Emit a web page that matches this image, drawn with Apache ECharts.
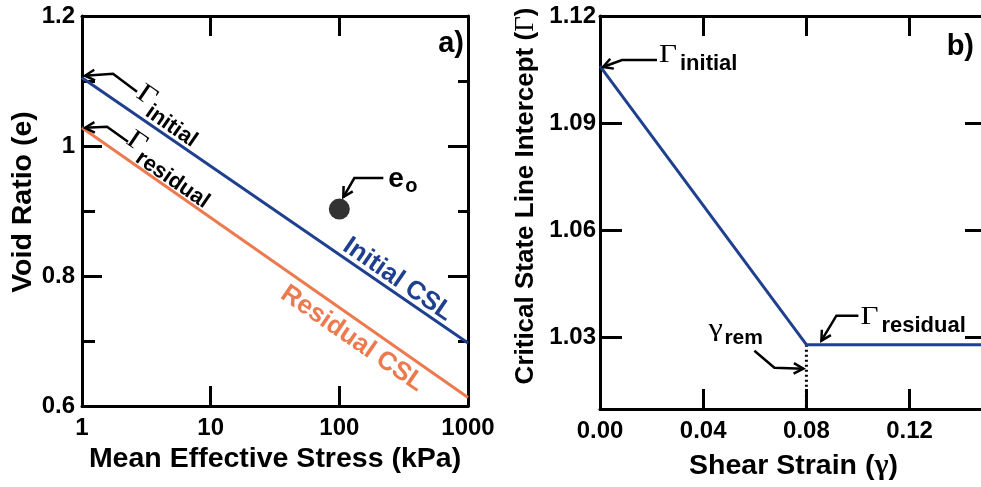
<!DOCTYPE html>
<html>
<head>
<meta charset="utf-8">
<script src="https://cdn.jsdelivr.net/npm/echarts@6/dist/echarts.min.js"></script>
<style>
  html, body { margin: 0; padding: 0; background: #fff; }
  #chart { width: 981px; height: 487px; }
</style>
</head>
<body>
<div id="chart"></div>
<script>
// Panel a): critical state lines in e - log p' space
const stressKPa = [1, 1000];
const initialCSL = [1.105, 0.697];
const residualCSL = [1.028, 0.613];
const initialState = [100, 0.903];

// Panel b): CSL intercept against shear strain
const shearStrain = [0, 0.08, 0.15];
const gammaIntercept = [1.106, 1.028, 1.028];
const gammaRem = 0.08;

// Tick values and their labels
const stressTicks = [1, 10, 100, 1000];
const stressLabels = ['1', '10', '100', '1000'];
const voidTicks = [0.6, 0.8, 1.0, 1.2];
const voidLabels = ['0.6', '0.8', '1', '1.2'];
const strainTicks = [0, 0.04, 0.08, 0.12];
const strainLabels = ['0.00', '0.04', '0.08', '0.12'];
const gammaTicks = [1.03, 1.06, 1.09, 1.12];
const gammaLabels = ['1.03', '1.06', '1.09', '1.12'];

const BLUE = '#1f3f8f';
const ORANGE = '#ec7a4e';
const SANS = '"Liberation Sans", Arial, sans-serif';
const SERIF = '"Liberation Serif", "Times New Roman", serif';
const GAMMA_MIN = 1.01, GAMMA_MAX = 1.12, STRAIN_MAX = 0.15;

function labelFrom(ticks, labels) {
  return function (v) {
    const i = ticks.findIndex(t => Math.abs(t - v) <= 1e-6 * Math.max(1, Math.abs(t)));
    return i < 0 ? '' : labels[i];
  };
}
const zip = (xs, ys) => xs.map((x, i) => [x, ys[i]]);

const axisLine = { show: true, onZero: false, lineStyle: { color: '#000', width: 3 } };
const tickLine = { color: '#000', width: 3 };
const tickFont = { fontFamily: SANS, fontWeight: 'bold', fontSize: 24, color: '#000' };
const nameFont = { fontFamily: SANS, fontWeight: 'bold', fontSize: 28.5, color: '#000' };

const chart = echarts.init(document.getElementById('chart'), null, { renderer: 'canvas' });

chart.setOption({
  animation: false,
  backgroundColor: '#fff',
  grid: [
    { left: 82, top: 16, width: 386, height: 390, outerBoundsMode: 'none' },
    { left: 600, top: 16, right: -6, height: 393, outerBoundsMode: 'none' }
  ],
  xAxis: [
    {
      type: 'log', logBase: 10, gridIndex: 0, min: 1, max: 1000, position: 'bottom',
      axisLine, axisTick: { show: true, inside: true, length: 20, lineStyle: tickLine },
      axisLabel: Object.assign({ margin: 10, formatter: labelFrom(stressTicks, stressLabels) }, tickFont),
      splitLine: { show: false }, minorTick: { show: false },
      name: 'Mean Effective Stress (kPa)', nameLocation: 'middle', nameGap: 39, nameTextStyle: nameFont
    },
    {
      type: 'log', logBase: 10, gridIndex: 0, min: 1, max: 1000, position: 'top',
      axisLine, axisTick: { show: true, inside: true, length: 20, lineStyle: tickLine },
      axisLabel: { show: false }, splitLine: { show: false }
    },
    {
      type: 'value', gridIndex: 1, min: 0, max: STRAIN_MAX, position: 'bottom',
      axisLine,
      axisTick: { show: true, inside: true, length: 20, lineStyle: tickLine, customValues: strainTicks },
      axisLabel: Object.assign({ margin: 10, customValues: strainTicks, formatter: labelFrom(strainTicks, strainLabels) }, tickFont),
      splitLine: { show: false },
      name: 'Shear Strain ({g|γ})', nameLocation: 'middle', nameGap: 42,
      nameTextStyle: Object.assign({ rich: { g: { fontFamily: SERIF, fontSize: 30, color: '#000' } } }, nameFont)
    },
    {
      type: 'value', gridIndex: 1, min: 0, max: STRAIN_MAX, position: 'top',
      axisLine,
      axisTick: { show: true, inside: true, length: 20, lineStyle: tickLine, customValues: strainTicks },
      axisLabel: { show: false }, splitLine: { show: false }
    }
  ],
  yAxis: [
    {
      type: 'value', gridIndex: 0, min: 0.6, max: 1.2, interval: 0.2, position: 'left',
      axisLine, axisTick: { show: true, inside: true, length: 20, lineStyle: tickLine },
      minorTick: { show: true, splitNumber: 2, length: 13, lineStyle: tickLine },
      axisLabel: Object.assign({ margin: 7, formatter: labelFrom(voidTicks, voidLabels) }, tickFont),
      splitLine: { show: false }, minorSplitLine: { show: false },
      name: 'Void Ratio (e)', nameLocation: 'middle', nameGap: 43,
      nameTextStyle: Object.assign({ padding: [0, 0, 0, 18] }, nameFont)
    },
    {
      type: 'value', gridIndex: 0, min: 0.6, max: 1.2, interval: 0.2, position: 'right',
      axisLine, axisTick: { show: true, inside: true, length: 20, lineStyle: tickLine },
      minorTick: { show: true, splitNumber: 2, length: 10, lineStyle: tickLine },
      axisLabel: { show: false }, splitLine: { show: false }, minorSplitLine: { show: false }
    },
    {
      type: 'value', gridIndex: 1, min: GAMMA_MIN, max: GAMMA_MAX, position: 'left',
      axisLine,
      axisTick: { show: true, inside: true, length: 22, lineStyle: tickLine, customValues: gammaTicks },
      axisLabel: Object.assign({ margin: 4, customValues: gammaTicks, formatter: labelFrom(gammaTicks, gammaLabels) }, tickFont),
      splitLine: { show: false }
    },
    {
      type: 'value', gridIndex: 1, min: GAMMA_MIN, max: GAMMA_MAX, position: 'right',
      axisLine,
      axisTick: { show: true, inside: true, length: 22, lineStyle: tickLine, customValues: gammaTicks },
      axisLabel: { show: false }, splitLine: { show: false }
    }
  ],
  series: [
    {
      name: 'Initial CSL', type: 'line', xAxisIndex: 0, yAxisIndex: 0,
      data: zip(stressKPa, initialCSL), showSymbol: false, symbol: 'none',
      lineStyle: { color: BLUE, width: 3 }, itemStyle: { color: BLUE }, z: 3
    },
    {
      name: 'Residual CSL', type: 'line', xAxisIndex: 0, yAxisIndex: 0,
      data: zip(stressKPa, residualCSL), showSymbol: false, symbol: 'none',
      lineStyle: { color: ORANGE, width: 3 }, itemStyle: { color: ORANGE }, z: 3
    },
    {
      name: 'e0', type: 'scatter', xAxisIndex: 0, yAxisIndex: 0,
      data: [initialState], symbol: 'circle', symbolSize: 21,
      itemStyle: { color: '#000' }, z: 4
    },
    {
      name: 'Gamma', type: 'line', xAxisIndex: 2, yAxisIndex: 2,
      data: zip(shearStrain, gammaIntercept), showSymbol: false, symbol: 'none', clip: true,
      lineStyle: { color: BLUE, width: 3 }, itemStyle: { color: BLUE }, z: 3
    },
    {
      name: 'gamma_rem', type: 'line', xAxisIndex: 2, yAxisIndex: 2,
      data: [[gammaRem, gammaIntercept[1]], [gammaRem, GAMMA_MIN]], showSymbol: false, symbol: 'none',
      lineStyle: { color: '#000', width: 3, type: [2, 3] }, z: 2
    }
  ]
});

// ---- annotations ----
const pxA = v => chart.convertToPixel({ seriesIndex: 0 }, v);
const pxB = v => chart.convertToPixel({ seriesIndex: 3 }, v);

function arrow(pts) {
  const n = pts.length;
  const [tx, ty] = pts[n - 1];
  const [px, py] = pts[n - 2];
  const ang = Math.atan2(ty - py, tx - px);
  const h = 11, spread = 0.5;
  const a1 = [tx - h * Math.cos(ang - spread), ty - h * Math.sin(ang - spread)];
  const a2 = [tx - h * Math.cos(ang + spread), ty - h * Math.sin(ang + spread)];
  const st = { stroke: '#000', lineWidth: 2.5, fill: null, lineJoin: 'miter' };
  return [
    { type: 'polyline', shape: { points: pts }, style: Object.assign({}, st), silent: true, z: 10 },
    { type: 'polyline', shape: { points: [a1, [tx, ty], a2] }, style: Object.assign({}, st), silent: true, z: 10 }
  ];
}
function txt(x, y, text, font, extra, props) {
  return Object.assign({
    type: 'text', x, y, silent: true, z: 10,
    style: Object.assign({ text, font, fill: '#000', textAlign: 'left', align: 'left', textVerticalAlign: 'middle', verticalAlign: 'middle' }, extra || {})
  }, props || {});
}
// Greek symbol with a sans subscript, optionally rotated
function symLabel(x, y, rot, sym, sub, dx, dy, symSize, subSize, symScale) {
  return {
    type: 'group', x, y, rotation: rot, silent: true, z: 10,
    children: [
      txt(0, 0, sym, symSize + 'px ' + SERIF, null, { scaleX: symScale || 1 }),
      txt(dx, dy, sub, 'bold ' + subSize + 'px ' + SANS)
    ]
  };
}

const a0 = pxA([stressKPa[0], initialCSL[0]]);
const a1 = pxA([stressKPa[1], initialCSL[1]]);
const b0 = pxA([stressKPa[0], residualCSL[0]]);
const b1 = pxA([stressKPa[1], residualCSL[1]]);
const theta = Math.atan2(a1[1] - a0[1], a1[0] - a0[0]);
const nrm = [Math.sin(theta), -Math.cos(theta)]; // points up-right, away from the line
const along = (p, q, t, off) => [p[0] + t * (q[0] - p[0]) + off * nrm[0], p[1] + t * (q[1] - p[1]) + off * nrm[1]];

const e0 = pxA(initialState);
const gI = pxB([shearStrain[0], gammaIntercept[0]]);
const gR = pxB([shearStrain[1], gammaIntercept[1]]);
const topRightA = pxA([stressKPa[1], voidTicks[3]]);
const topRightB = pxB([STRAIN_MAX, GAMMA_MAX]);
const gammaAxisLeft = pxB([0, GAMMA_MAX]);

const cslInit = along(a0, a1, 0.80, 12.5);
const cslRes = along(b0, b1, 0.727, -18);

const graphics = [].concat(
  // panel a)
  arrow([[a0[0] + 55, a0[1] + 14], [a0[0] + 31, a0[1] - 4], [a0[0] + 3, a0[1] - 2]]),
  [symLabel(a0[0] + 57, a0[1] + 13, -theta, 'Γ', 'initial', 18, 11, 27, 22, 1.2)],
  arrow([[b0[0] + 46, b0[1] + 14], [b0[0] + 25, b0[1] - 1], [b0[0] + 3, b0[1]]]),
  [symLabel(b0[0] + 47, b0[1] + 9, -theta, 'Γ', 'residual', 18, 11, 27, 22, 1.2)],
  [{
    type: 'text', x: cslInit[0], y: cslInit[1], rotation: -theta, silent: true, z: 10,
    style: { text: 'Initial CSL', font: 'bold 26px ' + SANS, fill: BLUE, textAlign: 'center', align: 'center', textVerticalAlign: 'middle', verticalAlign: 'middle' }
  }, {
    type: 'text', x: cslRes[0], y: cslRes[1], rotation: -theta, silent: true, z: 10,
    style: { text: 'Residual CSL', font: 'bold 26px ' + SANS, fill: ORANGE, textAlign: 'center', align: 'center', textVerticalAlign: 'middle', verticalAlign: 'middle' }
  }],
  arrow([[e0[0] + 44, e0[1] - 31], [e0[0] + 15, e0[1] - 31], [e0[0] + 4, e0[1] - 12]]),
  [txt(e0[0] + 49, e0[1] - 30, 'e', 'bold 28px ' + SANS), txt(e0[0] + 66, e0[1] - 23, 'o', 'bold 20px ' + SANS)],
  [txt(topRightA[0] - 4, topRightA[1] + 28, 'a)', 'bold 29px ' + SANS, { textAlign: 'right', align: 'right' })],
  // panel b)
  [{
    type: 'text', x: gammaAxisLeft[0] - 74, y: 196, rotation: Math.PI / 2, silent: true, z: 10,
    style: {
      text: 'Critical State Line Intercept ({g|Γ})',
      font: 'bold 26px ' + SANS, fill: '#000',
      textAlign: 'center', align: 'center', textVerticalAlign: 'middle', verticalAlign: 'middle',
      rich: { g: { fontFamily: SERIF, fontSize: 27, fontWeight: 'normal', fill: '#000', color: '#000' } }
    }
  }],
  arrow([[gI[0] + 57, gI[1] - 6], [gI[0] + 22, gI[1] - 6], [gI[0] + 3, gI[1] + 1]]),
  [symLabel(gI[0] + 59, gI[1] - 11, 0, 'Γ', 'initial', 21, 9, 26, 22, 1.2)],
  arrow([[gR[0] + 52, gR[1] - 29], [gR[0] + 30, gR[1] - 29], [gR[0] + 15, gR[1] - 4]]),
  [symLabel(gR[0] + 54, gR[1] - 28, 0, 'Γ', 'residual', 21, 9, 26, 22, 1.2)],
  arrow([[gR[0] - 52, gR[1] + 6], [gR[0] - 32, gR[1] + 23], [gR[0] - 3, gR[1] + 24]]),
  [symLabel(gR[0] - 98, gR[1] - 16, 0, 'γ', 'rem', 16, 10, 26, 21, 1.25)],
  [txt(topRightB[0] - 13, topRightB[1] + 31, 'b)', 'bold 29px ' + SANS, { textAlign: 'right', align: 'right' })]
);

chart.setOption({ graphic: graphics });
</script>
</body>
</html>
